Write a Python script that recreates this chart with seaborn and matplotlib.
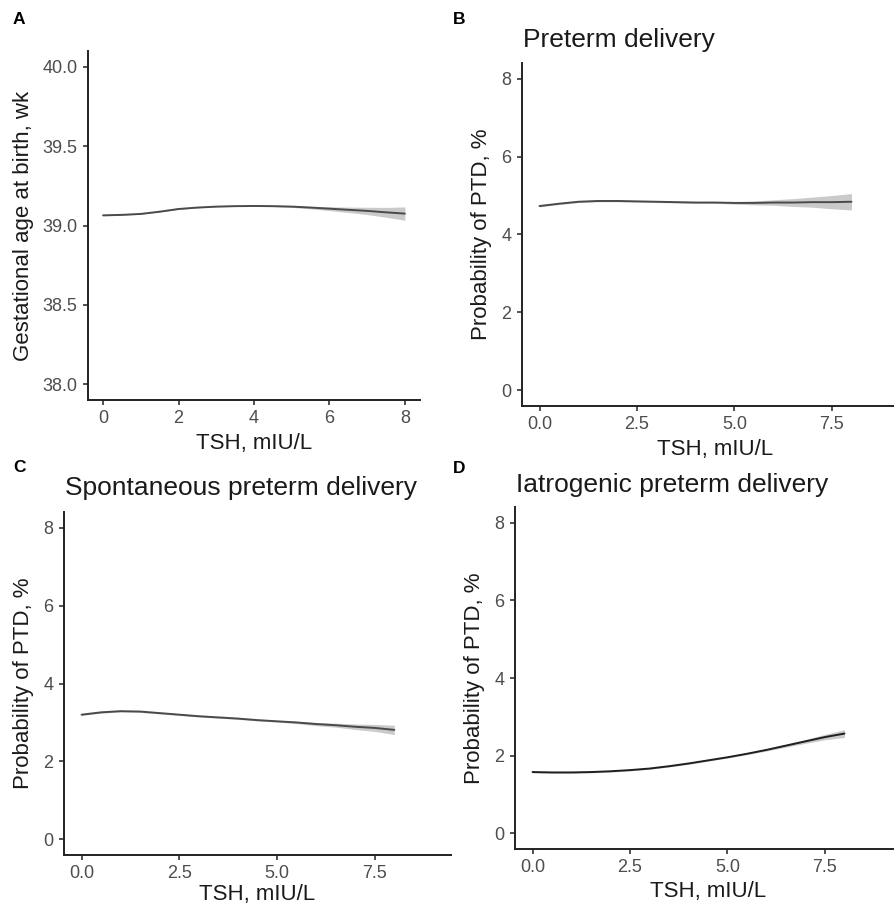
import matplotlib
matplotlib.use("Agg")
import matplotlib.pyplot as plt
import seaborn as sns

# TSH grid (mIU/L)
tsh = [0.0, 0.5, 1.0, 1.5, 2.0, 2.5, 3.0, 3.5, 4.0, 4.5, 5.0, 5.5, 6.0, 6.5, 7.0, 7.5, 8.0]

# A: gestational age at birth, wk
ga_fit = [39.064, 39.067, 39.073, 39.087, 39.104, 39.113, 39.119, 39.122, 39.123,
          39.122, 39.119, 39.113, 39.106, 39.099, 39.092, 39.083, 39.075]
ga_hi = [39.067, 39.069, 39.075, 39.089, 39.106, 39.115, 39.121, 39.124, 39.125,
         39.125, 39.124, 39.121, 39.118, 39.116, 39.115, 39.114, 39.117]
ga_lo = [39.061, 39.065, 39.071, 39.085, 39.102, 39.111, 39.117, 39.120, 39.121,
         39.119, 39.114, 39.105, 39.094, 39.082, 39.069, 39.052, 39.033]

# B: preterm delivery, %
ptd_fit = [4.73, 4.79, 4.84, 4.86, 4.86, 4.85, 4.84, 4.83, 4.82,
           4.82, 4.81, 4.81, 4.82, 4.82, 4.83, 4.83, 4.84]
ptd_hi = [4.75, 4.81, 4.86, 4.88, 4.88, 4.87, 4.86, 4.85, 4.84,
          4.84, 4.84, 4.86, 4.89, 4.92, 4.96, 5.00, 5.05]
ptd_lo = [4.71, 4.77, 4.82, 4.84, 4.84, 4.83, 4.82, 4.81, 4.80,
          4.80, 4.78, 4.76, 4.75, 4.72, 4.70, 4.66, 4.63]

# C: spontaneous preterm delivery, %
sptd_fit = [3.20, 3.26, 3.29, 3.28, 3.24, 3.20, 3.16, 3.13, 3.10,
            3.06, 3.03, 3.00, 2.96, 2.93, 2.89, 2.86, 2.81]
sptd_hi = [3.22, 3.28, 3.31, 3.30, 3.26, 3.22, 3.18, 3.15, 3.12,
           3.08, 3.05, 3.03, 3.00, 2.98, 2.96, 2.95, 2.93]
sptd_lo = [3.18, 3.24, 3.27, 3.26, 3.22, 3.18, 3.14, 3.11, 3.08,
           3.04, 3.01, 2.97, 2.92, 2.88, 2.82, 2.77, 2.69]

# D: iatrogenic preterm delivery, %
iptd_fit = [1.58, 1.57, 1.57, 1.58, 1.60, 1.63, 1.67, 1.73, 1.80,
            1.88, 1.96, 2.05, 2.15, 2.26, 2.37, 2.48, 2.57]
iptd_hi = [1.60, 1.59, 1.59, 1.60, 1.62, 1.65, 1.69, 1.75, 1.82,
           1.90, 1.98, 2.07, 2.18, 2.30, 2.42, 2.55, 2.67]
iptd_lo = [1.56, 1.55, 1.55, 1.56, 1.58, 1.61, 1.65, 1.71, 1.78,
           1.86, 1.94, 2.03, 2.12, 2.22, 2.32, 2.41, 2.47]

xlabel = "TSH, mIU/L"
ptd_ylabel = "Probability of PTD, %"

sns.set_theme(style="ticks")
plt.rcParams["font.family"] = ["Liberation Sans", "DejaVu Sans"]

W, H = 895, 905
fig = plt.figure(figsize=(W / 100, H / 100), dpi=100)


def add_axes(l, t, r, b):
    return fig.add_axes([l / W, 1 - b / H, (r - l) / W, (b - t) / H])


def style(ax):
    sns.despine(ax=ax)
    for s in ["left", "bottom"]:
        ax.spines[s].set_color("#222222")
        ax.spines[s].set_linewidth(1.4)
    ax.tick_params(axis="both", colors="#222222", length=3.5, width=1.1,
                   labelsize=13, labelcolor="#4d4d4d", pad=4)
    ax.xaxis.label.set_size(16)
    ax.yaxis.label.set_size(16)
    ax.xaxis.label.set_color("#1a1a1a")
    ax.yaxis.label.set_color("#1a1a1a")
    ax.grid(False)


def panel(ax, fit, lo, hi, color):
    ax.fill_between(tsh, lo, hi, color="#bdbdbd", alpha=0.8, linewidth=0)
    sns.lineplot(x=tsh, y=fit, ax=ax, color=color, linewidth=1.4)


# A
axA = add_axes(88, 51, 420, 400)
panel(axA, ga_fit, ga_lo, ga_hi, "#4a4a4a")
axA.set_xlim(-0.4, 8.4)
axA.set_ylim(37.9, 40.1)
axA.set_xticks([0, 2, 4, 6, 8])
axA.set_yticks([38.0, 38.5, 39.0, 39.5, 40.0])
axA.set_yticklabels(["38.0", "38.5", "39.0", "39.5", "40.0"])
axA.set_xlabel(xlabel, labelpad=4)
axA.set_ylabel("Gestational age at birth, wk", labelpad=6)
style(axA)

# B, C, D
boxes = [(522, 63, 908, 406), (64, 512, 451, 855), (515, 507, 901, 849)]
series = [(ptd_fit, ptd_lo, ptd_hi, "#4a4a4a"),
          (sptd_fit, sptd_lo, sptd_hi, "#4a4a4a"),
          (iptd_fit, iptd_lo, iptd_hi, "#1f1f1f")]
pads = [4, 1, 3]
for box, (fit, lo, hi, col), lp in zip(boxes, series, pads):
    ax = add_axes(*box)
    panel(ax, fit, lo, hi, col)
    ax.set_xlim(-0.45, 9.45)
    ax.set_ylim(-0.4, 8.4)
    ax.set_xticks([0, 2.5, 5, 7.5])
    ax.set_xticklabels(["0.0", "2.5", "5.0", "7.5"])
    ax.set_yticks([0, 2, 4, 6, 8])
    ax.set_xlabel(xlabel, labelpad=lp)
    ax.set_ylabel(ptd_ylabel, labelpad=7)
    style(ax)

# titles
fig.text(523 / W, 1 - 47 / H, "Preterm delivery", fontsize=19,
         color="#1a1a1a", va="baseline", ha="left")
fig.text(65 / W, 1 - 495 / H, "Spontaneous preterm delivery", fontsize=19,
         color="#1a1a1a", va="baseline", ha="left")
fig.text(516 / W, 1 - 492 / H, "Iatrogenic preterm delivery", fontsize=19,
         color="#1a1a1a", va="baseline", ha="left")

# panel letters
for lab, x, y in [("A", 13, 19), ("B", 453, 19), ("C", 13, 467), ("D", 453, 468)]:
    fig.text(x / W, 1 - y / H, lab, fontsize=12.5, fontweight="bold",
             color="black", va="center", ha="left")

fig.savefig("out.png", dpi=100)
